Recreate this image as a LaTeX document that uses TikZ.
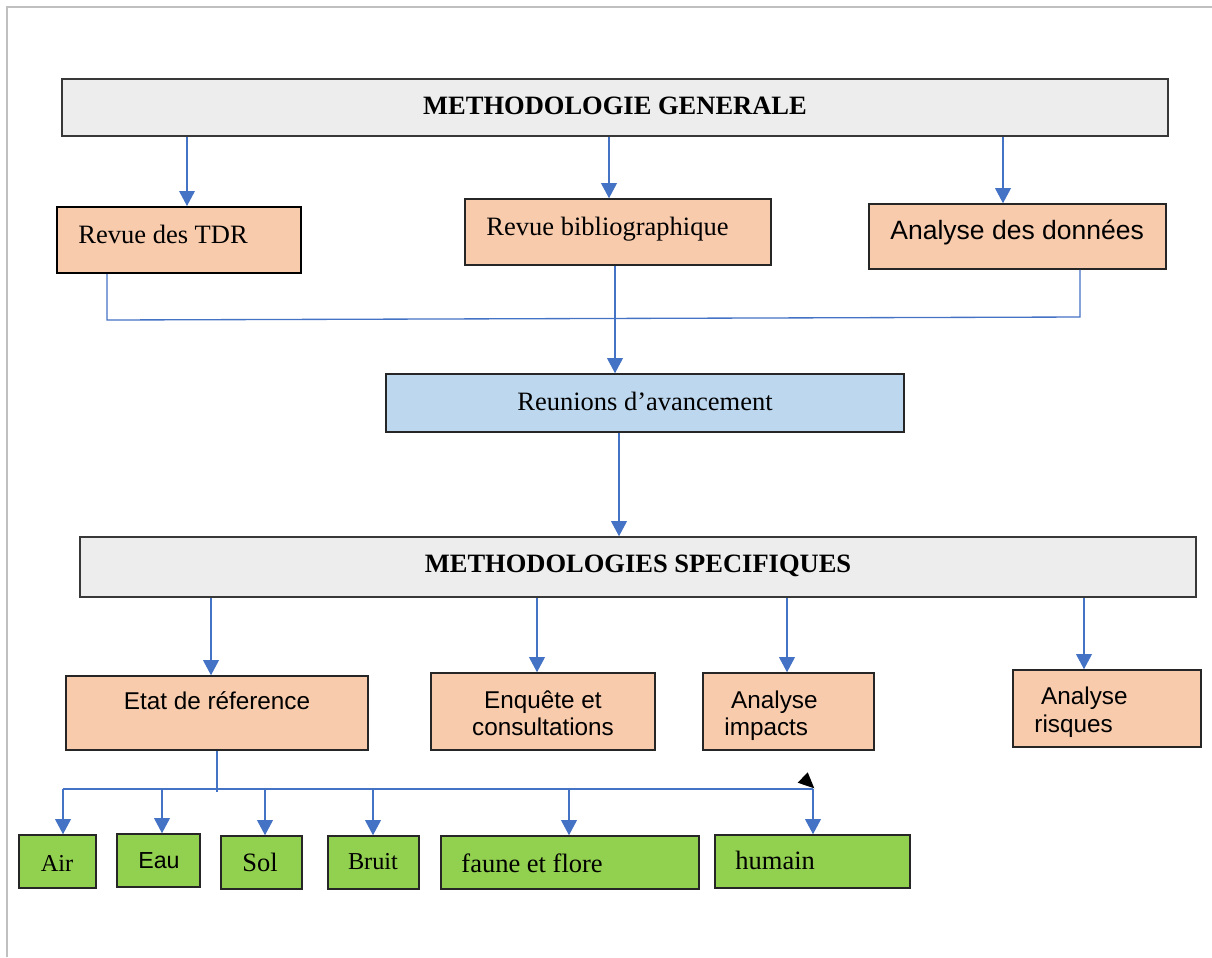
\documentclass[tikz,border=0pt]{standalone}
\usepackage{fontspec}
\setmainfont{Liberation Serif}
\newfontfamily\arialf{Liberation Sans}
\usetikzlibrary{arrows.meta,fit}
\definecolor{gfill}{HTML}{EDEDED}
\definecolor{ofill}{HTML}{F8CBAD}
\definecolor{bfill}{HTML}{BDD7EE}
\definecolor{grn}{HTML}{92D050}
\definecolor{ln}{HTML}{4472C4}
\definecolor{framec}{HTML}{C0C0C0}
\begin{document}
\begin{tikzpicture}[x=0.4528pt,y=-0.4528pt,
  boxg/.style={draw=black!78, fill=gfill, line width=0.7pt, inner sep=0pt},
  boxo/.style={draw=black!85, fill=ofill, line width=0.7pt, inner sep=0pt},
  boxb/.style={draw=black!85, fill=bfill, line width=0.7pt, inner sep=0pt},
  boxgr/.style={draw=black!85, fill=grn, line width=0.7pt, inner sep=0pt},
  arr/.style={draw=ln, line width=0.6pt, -{Triangle[width=7.1pt,length=6.8pt]}},
  conn/.style={draw=ln, line width=0.6pt},
  ts/.style={inner sep=0pt, font=\fontsize{12}{14}\selectfont},
  tsb/.style={inner sep=0pt, font=\fontsize{12}{14}\selectfont\bfseries},
  tss/.style={inner sep=0pt, font=\fontsize{11}{13}\selectfont},
  ta/.style={inner sep=0pt, font=\arialf\fontsize{12}{14}\selectfont},
  tas/.style={inner sep=0pt, font=\arialf\fontsize{11}{13}\selectfont},
  tae/.style={inner sep=0pt, font=\arialf\fontsize{10.5}{12}\selectfont}
]
\useasboundingbox (0,0) rectangle (1212,957);
\draw[framec, line width=1pt] (7,957) -- (7,7) -- (1212,7);

% boxes
\node[boxg, fit={(62,79) (1168,136)}] (mg) {};
\node[boxo, line width=0.9pt, draw=black, fit={(57,207) (301,273)}] (tdr) {};
\node[boxo, fit={(465,199) (771,265)}] (bib) {};
\node[boxo, fit={(869,204) (1166,269)}] (don) {};
\node[boxb, fit={(386,374) (904,432)}] (reu) {};
\node[boxg, fit={(80,537) (1196,597)}] (ms) {};
\node[boxo, fit={(66,676) (368,750)}] (etat) {};
\node[boxo, fit={(431,673) (655,750)}] (enq) {};
\node[boxo, fit={(703,673) (874,750)}] (imp) {};
\node[boxo, fit={(1013,670) (1201,747)}] (ris) {};
\node[boxgr, fit={(19,835) (96,888)}] (air) {};
\node[boxgr, fit={(117,834) (200,887)}] (eau) {};
\node[boxgr, fit={(221,836) (302,889)}] (sol) {};
\node[boxgr, fit={(328,836) (419,889)}] (bru) {};
\node[boxgr, fit={(441,836) (699,889)}] (fau) {};
\node[boxgr, fit={(715,835) (910,888)}] (hum) {};

% texts
\node[tsb, anchor=base] (tmg) at (615,114) {METHODOLOGIE GENERALE};
\node[ts, anchor=base west] (ttdr) at (78,243) {Revue des TDR};
\node[ts, anchor=base west] (tbib) at (486,235) {Revue bibliographique};
\node[ta, anchor=base west] (tdon) at (890,239) {Analyse des données};
\node[ts, anchor=base] (treu) at (645,410) {Reunions d’avancement};
\node[tsb, anchor=base] (tms) at (638,572) {METHODOLOGIES SPECIFIQUES};
\node[tas, anchor=base] (tetat) at (217,709) {Etat de réference};
\node[tas, anchor=base] (tenq1) at (543,708) {Enquête et};
\node[tas, anchor=base] (tenq2) at (543,735) {consultations};
\node[tas, anchor=base west] (timp1) at (724,708) {\ Analyse};
\node[tas, anchor=base west] (timp2) at (724,735) {impacts};
\node[tas, anchor=base west] (tris1) at (1034,704) {\ Analyse};
\node[tas, anchor=base west] (tris2) at (1034,732) {risques};
\node[tss, anchor=base] (tair) at (57,871) {Air};
\node[tae, anchor=base] (teau) at (159,868) {Eau};
\node[ts, anchor=base] (tsol) at (260,871) {Sol};
\node[tss, anchor=base] (tbru) at (373,869) {Bruit};
\node[ts, anchor=base west] (tfau) at (461,872) {faune et flore};
\node[ts, anchor=base west] (thum) at (735,869) {humain};

% connector x positions
\coordinate (c1) at (187,0);
\coordinate (c2) at (609,0);
\coordinate (c3) at (1003,0);
\coordinate (c4) at (615,0);
\coordinate (c5) at (619,0);
\coordinate (c6) at (211,0);
\coordinate (c7) at (537,0);
\coordinate (c8) at (787,0);
\coordinate (c9) at (1084,0);
\coordinate (j1) at (107,320);
\coordinate (j2) at (1080,317);
\coordinate (e0) at (217,792);
\coordinate (h1) at (63,789);
\coordinate (h2) at (813,789);
\coordinate (d2) at (162,789);
\coordinate (d3) at (265,789);
\coordinate (d4) at (373,789);
\coordinate (d5) at (569,789);

\draw[arr] (c1 |- mg.south) -- (c1 |- tdr.north);
\draw[arr] (c2 |- mg.south) -- (c2 |- bib.north);
\draw[arr] (c3 |- mg.south) -- (c3 |- don.north);
\draw[conn] (j1 |- tdr.south) -- (j1) -- (j2) -- (j2 |- don.south);
\draw[arr] (c4 |- bib.south) -- (c4 |- reu.north);
\draw[arr] (c5 |- reu.south) -- (c5 |- ms.north);
\draw[arr] (c6 |- ms.south) -- (c6 |- etat.north);
\draw[arr] (c7 |- ms.south) -- (c7 |- enq.north);
\draw[arr] (c8 |- ms.south) -- (c8 |- imp.north);
\draw[arr] (c9 |- ms.south) -- (c9 |- ris.north);
\draw[conn] (e0 |- etat.south) -- (e0);
\draw[conn] (h1) -- (h2);
\draw[arr] (h1) -- (h1 |- air.north);
\draw[arr] (d2) -- (d2 |- eau.north);
\draw[arr] (d3) -- (d3 |- sol.north);
\draw[arr] (d4) -- (d4 |- bru.north);
\draw[arr] (d5) -- (d5 |- fau.north);
\draw[arr] (h2) -- (h2 |- hum.north);
\fill[black] (797.7,782.7) -- (807.7,772.3) -- (814.3,788.3) -- cycle;
\end{tikzpicture}
\end{document}
